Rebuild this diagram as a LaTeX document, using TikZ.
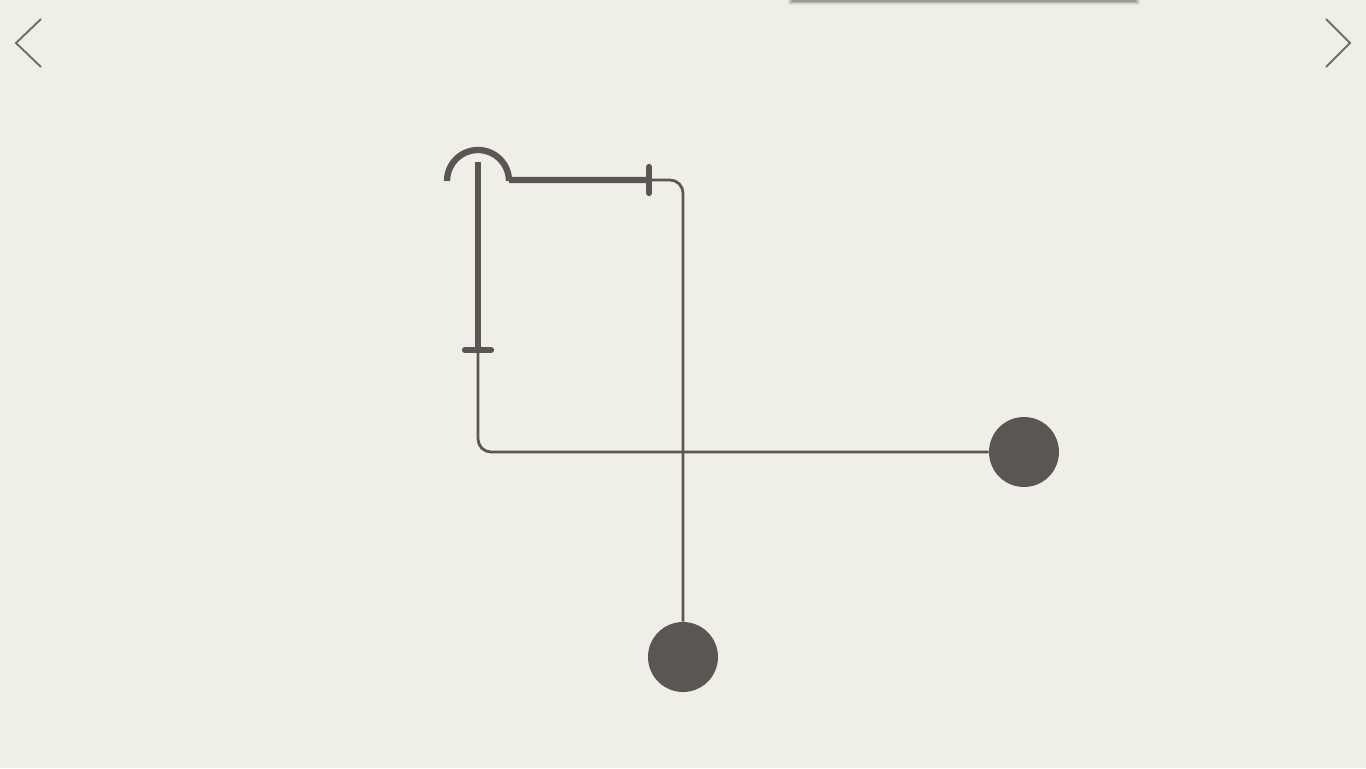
\documentclass[tikz,border=0pt]{standalone}
\usepackage{tikz}
\usetikzlibrary{positioning,calc}

\definecolor{paper}{RGB}{240,239,231}
\definecolor{ink}{RGB}{89,86,83}
\definecolor{chev}{RGB}{110,110,108}

\tikzset{
  thickwire/.style={draw=ink, line width=3.6pt},
  thinwire/.style={draw=ink, line width=1.6pt, rounded corners=0.26cm},
  tickmark/.style={draw=ink, line width=3.6pt, line cap=round},
  ball/.style={circle, fill=ink, inner sep=0pt, minimum size=1.4cm},
  chevron/.style={draw=chev, line width=1.1pt}
}

\begin{document}
\begin{tikzpicture}[x=0.02cm, y=-0.02cm]
  % Background
  \fill[paper] (0,0) rectangle (1366,768);
  \useasboundingbox (0,0) rectangle (1366,768);

  % Top bar with shadow
  \foreach \d/\o in {4/0.05,3/0.08,2/0.12}
    \fill[black, opacity=\o] (792-\d,0) rectangle (1136+\d,1+\d);
  \fill[black!35!paper] (792,0) rectangle (1136,1.5);

  % Chevrons
  \coordinate (lt) at (41,19); \coordinate (lm) at (16,43); \coordinate (lb) at (41,67);
  \coordinate (rt) at (1326,19); \coordinate (rm) at (1350,43); \coordinate (rb) at (1326,67);
  \draw[chevron] (lt) -- (lm) -- (lb);
  \draw[chevron] (rt) -- (rm) -- (rb);

  % Nodes
  \node[ball] (ballLow) at (683,657) {};
  \node[ball] (ballRight) at (1024,452) {};
  \coordinate (hook) at (447,181);
  \coordinate (tickTop) at (649,180);
  \coordinate (stemTop) at (478,162);
  \coordinate (tickLeft) at (478,350);

  % Thick parts
  \draw[thickwire] (hook) arc[start angle=180, end angle=360, radius=31] |- (tickTop);
  \draw[thickwire] (stemTop) -- (tickLeft);
  \draw[tickmark] ($(tickTop)+(0,-13)$) -- ($(tickTop)+(0,13)$);
  \draw[tickmark] ($(tickLeft)+(-13,0)$) -- ($(tickLeft)+(13,0)$);

  % Thin wires
  \draw[thinwire] (tickTop) -| (ballLow);
  \draw[thinwire] (tickLeft) |- (ballRight);
\end{tikzpicture}
\end{document}
